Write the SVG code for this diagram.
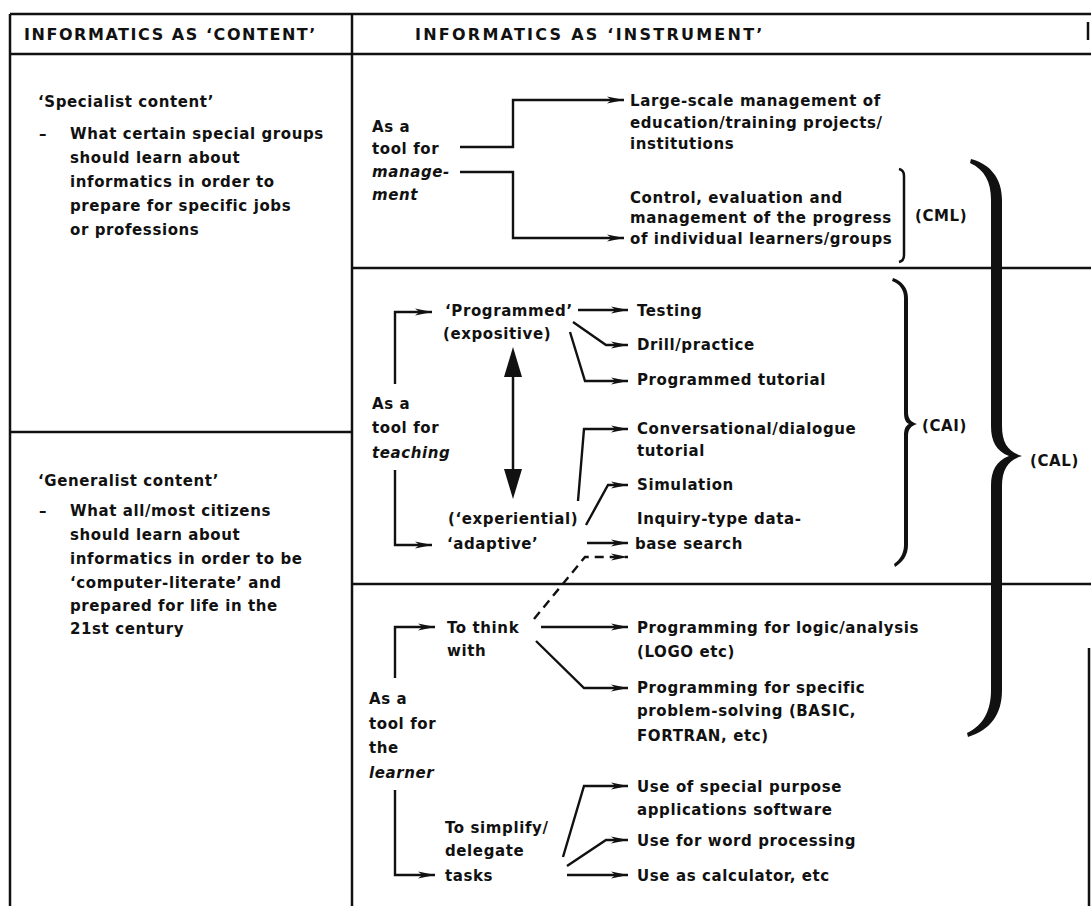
<svg xmlns="http://www.w3.org/2000/svg" width="1091" height="906" viewBox="0 0 1091 906">
  <defs>
    <style>
      .frame { stroke: #111; stroke-width: 2.5; fill: none; }
      .c { stroke: #111; stroke-width: 2.4; fill: none; marker-end: url(#ah); }
      .dash { stroke-dasharray: 9 6; }
      .t { font-family: "DejaVu Sans", "Liberation Sans", sans-serif; font-size: 15px; font-weight: bold; letter-spacing: 0.6px; fill: #111; }
      .h { font-size: 16px; }
      .i { font-style: italic; }
      .ink { fill: #111; }
    </style>
    <marker id="ah" viewBox="0 0 17 8" refX="17" refY="4" markerWidth="17" markerHeight="8" markerUnits="userSpaceOnUse" orient="auto">
      <path d="M0,0.4 L17,4 L0,7.6 L4.5,4 Z" fill="#111"/>
    </marker>
  </defs>

  <rect width="1091" height="906" fill="#fff"/>

  <!-- table rules -->
  <g id="frame" class="frame">
    <path d="M10,14 H1091"/>
    <path d="M10,54 H1091"/>
    <path d="M10,14 V906"/>
    <path d="M352,14 V906"/>
    <path d="M10,432 H352"/>
    <path d="M352,268 H1091"/>
    <path d="M352,584 H1091"/>
    <path d="M1088,22 V40"/>
    <path d="M1089,648 V906"/>
  </g>

  <!-- column headers -->
  <g id="hdr-content">
    <text class="t h" x="24" y="39.5" textLength="292" lengthAdjust="spacing">INFORMATICS AS ‘CONTENT’</text>
  </g>
  <g id="hdr-instrument">
    <text class="t h" x="415" y="39.5" textLength="348" lengthAdjust="spacing">INFORMATICS AS ‘INSTRUMENT’</text>
  </g>

  <!-- left column -->
  <g id="specialist">
    <text class="t" x="38" y="106.5">‘Specialist content’</text>
    <text class="t" x="39" y="138.5">–</text>
    <text class="t" x="70" y="138.5">What certain special groups</text>
    <text class="t" x="70" y="162.5">should learn about</text>
    <text class="t" x="70" y="186.5">informatics in order to</text>
    <text class="t" x="70" y="210.5">prepare for specific jobs</text>
    <text class="t" x="70" y="234.5">or professions</text>
  </g>
  <g id="generalist">
    <text class="t" x="38" y="485.5">‘Generalist content’</text>
    <text class="t" x="39" y="515.5">–</text>
    <text class="t" x="70" y="515.5">What all/most citizens</text>
    <text class="t" x="70" y="539.5">should learn about</text>
    <text class="t" x="70" y="563.5">informatics in order to be</text>
    <text class="t" x="70" y="587.5">‘computer-literate’ and</text>
    <text class="t" x="70" y="610.5">prepared for life in the</text>
    <text class="t" x="70" y="633.5">21st century</text>
  </g>

  <!-- management row -->
  <g id="mgmt-tool">
    <text class="t" x="372" y="131.5">As a</text>
    <text class="t" x="372" y="153.5">tool for</text>
    <text class="t i" x="372" y="176.5">manage-</text>
    <text class="t i" x="372" y="199.5">ment</text>
  </g>
  <g id="mgmt-large">
    <text class="t" x="630" y="105.5">Large-scale management of</text>
    <text class="t" x="630" y="127.5">education/training projects/</text>
    <text class="t" x="630" y="148.5">institutions</text>
  </g>
  <g id="mgmt-control">
    <text class="t" x="630" y="202.5">Control, evaluation and</text>
    <text class="t" x="630" y="222.5">management of the progress</text>
    <text class="t" x="630" y="243.5">of individual learners/groups</text>
  </g>
  <g id="cml">
    <path d="M899,169 Q904,170 904,176 L904,255 Q904,261 899,262" class="frame" stroke-width="2.4"/>
    <text class="t" x="915" y="220.5">(CML)</text>
  </g>

  <!-- teaching row -->
  <g id="teach-tool">
    <text class="t" x="372" y="408.5">As a</text>
    <text class="t" x="372" y="432.5">tool for</text>
    <text class="t i" x="372" y="457.5">teaching</text>
  </g>
  <g id="programmed">
    <text class="t" x="445" y="315.5">‘Programmed’</text>
    <text class="t" x="443" y="338.5">(expositive)</text>
  </g>
  <g id="adaptive">
    <text class="t" x="448" y="523.5">(‘experiential)</text>
    <text class="t" x="447" y="548.5">‘adaptive’</text>
  </g>
  <g id="testing"><text class="t" x="637" y="315.5">Testing</text></g>
  <g id="drill"><text class="t" x="637" y="349.5">Drill/practice</text></g>
  <g id="prog-tutorial"><text class="t" x="637" y="384.5">Programmed tutorial</text></g>
  <g id="conversational">
    <text class="t" x="637" y="433.5">Conversational/dialogue</text>
    <text class="t" x="637" y="455.5">tutorial</text>
  </g>
  <g id="simulation"><text class="t" x="637" y="489.5">Simulation</text></g>
  <g id="inquiry">
    <text class="t" x="637" y="523.5">Inquiry-type data-</text>
    <text class="t" x="635" y="548.5">base search</text>
  </g>
  <g id="cai">
    <path class="ink" d="M893,278 C902,281 908,288 908,298 L908,412 C908,419 911,422 917,424 C911,426 908,429 908,436 L908,545 C908,555 903,562 895,567 L894,564 C900,560 904,553 904,545 L904,436 C904,430 905,426 909,424 C905,422 904,418 904,412 L904,298 C904,290 900,284 892,281 Z"/>
    <text class="t" x="922" y="430.5">(CAI)</text>
  </g>

  <!-- learner row -->
  <g id="learn-tool">
    <text class="t" x="369" y="703.5">As a</text>
    <text class="t" x="369" y="728.5">tool for</text>
    <text class="t" x="369" y="752.5">the</text>
    <text class="t i" x="369" y="777.5">learner</text>
  </g>
  <g id="think">
    <text class="t" x="447" y="632.5">To think</text>
    <text class="t" x="447" y="655.5">with</text>
  </g>
  <g id="simplify">
    <text class="t" x="445" y="832.5">To simplify/</text>
    <text class="t" x="445" y="855.5">delegate</text>
    <text class="t" x="445" y="880.5">tasks</text>
  </g>
  <g id="logo">
    <text class="t" x="637" y="632.5">Programming for logic/analysis</text>
    <text class="t" x="637" y="656.5">(LOGO etc)</text>
  </g>
  <g id="specific">
    <text class="t" x="637" y="692.5">Programming for specific</text>
    <text class="t" x="637" y="715.5">problem-solving (BASIC,</text>
    <text class="t" x="637" y="740.5">FORTRAN, etc)</text>
  </g>
  <g id="special-purpose">
    <text class="t" x="637" y="791.5">Use of special purpose</text>
    <text class="t" x="637" y="814.5">applications software</text>
  </g>
  <g id="word"><text class="t" x="637" y="845.5">Use for word processing</text></g>
  <g id="calculator"><text class="t" x="637" y="880.5">Use as calculator, etc</text></g>

  <!-- overall brace -->
  <g id="cal">
    <path class="ink" d="M971,159 C990,164 1002,178 1002,200 L1002,426 C1002,444 1009,452 1022,456 C1009,460 1002,468 1002,486 L1002,690 C1002,715 990,730 968,737 L967,733 C984,725 991,710 991,690 L991,486 C991,471 996,461 1009,456 C996,451 991,441 991,426 L991,200 C991,182 985,170 970,163 Z"/>
    <text class="t" x="1030" y="465.5">(CAL)</text>
  </g>

  <!-- connectors -->
  <g id="connectors">
    <path class="c" d="M460,147 H513 V100 H624"/>
    <path class="c" d="M460,172 H513 V238 H624"/>
    <path class="c" d="M395,384 V312 H432"/>
    <path class="c" d="M395,470 V545 H432"/>
    <path class="c" d="M578,310 H628"/>
    <path class="c" d="M573,322 L606,345 H628"/>
    <path class="c" d="M570,332 L585,381 H628"/>
    <path class="c" d="M578,501 L584,429 H628"/>
    <path class="c" d="M586,525 L608,485 H628"/>
    <path class="c" d="M587,543 H628"/>
    <path class="c dash" d="M534,619 L585,557 H628"/>
    <path class="frame" stroke-width="2.5" d="M513,372 V474"/>
    <polygon class="ink" points="513,347 504,377 522,377"/>
    <polygon class="ink" points="513,499 504,469 522,469"/>
    <path class="c" d="M395,678 V627 H435"/>
    <path class="c" d="M395,790 V875 H435"/>
    <path class="c" d="M541,627 H628"/>
    <path class="c" d="M536,641 L584,688 H628"/>
    <path class="c" d="M563,857 L584,786 H628"/>
    <path class="c" d="M567,866 L606,840 H628"/>
    <path class="c" d="M567,875 H628"/>
  </g>
</svg>
